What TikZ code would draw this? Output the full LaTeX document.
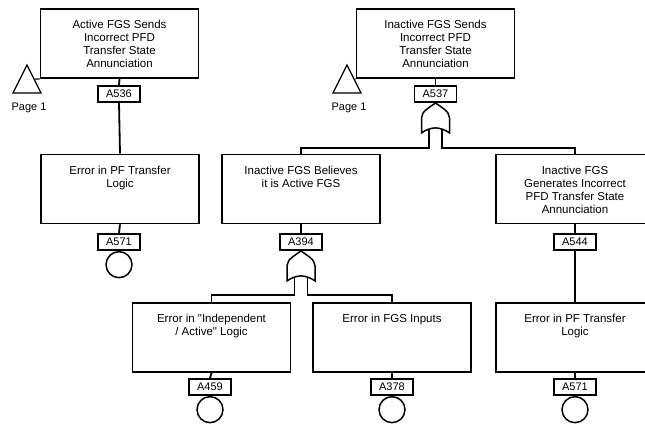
\documentclass[tikz,border=0pt]{standalone}
\usepackage{fontspec}
\setmainfont{Liberation Sans}[Ligatures=TeXOff]
\begin{document}
\begin{tikzpicture}[x=1pt,y=-1pt,line width=1.8pt,
  evbox/.style={draw,line width=1.8pt,minimum width=158pt,minimum height=69pt,inner sep=0pt},
  lbl/.style={draw,line width=1.8pt,minimum width=42pt,minimum height=16pt,inner sep=0pt,font=\fontsize{11}{12}\selectfont},
  txt/.style={align=center,anchor=north,inner sep=0pt,font=\fontsize{11.5}{13}\selectfont},
  basic/.style={draw,line width=1.5pt,circle,minimum size=26pt,inner sep=0pt},
  pagetxt/.style={inner sep=0pt,font=\fontsize{11}{12}\selectfont},
  orgate/.pic={\draw[line width=1.5pt] (0,0) .. controls (-5,4) and (-14,8) .. (-14,15) -- (-14,30)
      .. controls (-10,27) and (-4,25) .. (0,25) .. controls (4,25) and (10,27) .. (14,30)
      -- (14,15) .. controls (14,8) and (5,4) .. (0,0) -- cycle;}]
\useasboundingbox (0,0) rectangle (645,425);
\clip (0,0) rectangle (645,425);
% boxes
\node[evbox] (b1) at (119.5,43.5) {};
\node[evbox] (b2) at (435.5,43.5) {};
\node[evbox] (b3) at (120,189) {};
\node[evbox] (b4) at (301,189) {};
\node[evbox] (b5) at (575,189) {};
\node[evbox] (b6) at (211.5,337.5) {};
\node[evbox] (b7) at (392,337.5) {};
\node[evbox] (b8) at (575,337.5) {};
% texts
\node[txt] (t1) at ([yshift=-11.5pt]b1.north) {Active FGS Sends\\Incorrect PFD\\Transfer State\\Annunciation};
\node[txt] (t2) at ([yshift=-11.5pt]b2.north) {Inactive FGS Sends\\Incorrect PFD\\Transfer State\\Annunciation};
\node[txt] (t3) at ([yshift=-11.5pt]b3.north) {Error in PF Transfer\\Logic};
\node[txt] (t4) at ([yshift=-11.5pt]b4.north) {Inactive FGS Believes\\it is Active FGS};
\node[txt] (t5) at ([yshift=-11.5pt]b5.north) {Inactive FGS\\Generates Incorrect\\PFD Transfer State\\Annunciation};
\node[txt] (t6) at ([yshift=-11.5pt]b6.north) {Error in "Independent\\/ Active" Logic};
\node[txt] (t7) at ([yshift=-11.5pt]b7.north) {Error in FGS Inputs};
\node[txt] (t8) at ([yshift=-11.5pt]b8.north) {Error in PF Transfer\\Logic};
% labels
\node[lbl] (l1) at (119,94) {A536};
\node[lbl] (l2) at (435.5,94) {A537};
\node[lbl] (l3) at (119,242) {A571};
\node[lbl] (l4) at (301,242) {A394};
\node[lbl] (l5) at (575,242) {A544};
\node[lbl] (l6) at (210,387) {A459};
\node[lbl] (l7) at (392,387) {A378};
\node[lbl] (l8) at (575,387) {A571};
% basic events
\node[basic,anchor=north] (c3) at (l3.south) {};
\node[basic,anchor=north] (c6) at (l6.south) {};
\node[basic,anchor=north] (c7) at (l7.south) {};
\node[basic,anchor=north] (c8) at (l8.south) {};
% gates
\pic at (l2.south) {orgate};
\pic at (l4.south) {orgate};
\coordinate (g2l) at ([xshift=-6.5pt,yshift=-26pt]l2.south);
\coordinate (g2r) at ([xshift=6.5pt,yshift=-26pt]l2.south);
\coordinate (g4l) at ([xshift=-6.5pt,yshift=-26pt]l4.south);
\coordinate (g4r) at ([xshift=6.5pt,yshift=-26pt]l4.south);
\coordinate (h2) at (0,148);
\coordinate (h4) at (0,295);
% connectors
\draw (b1.south) -- (l1.north);
\draw (l1.south) -- (b3.north);
\draw (b2.south) -- (l2.north);
\draw (b3.south) -- (l3.north);
\draw (b4.south) -- (l4.north);
\draw (b5.south) -- (l5.north);
\draw (l5.south) -- (b8.north);
\draw (b6.south) -- (l6.north);
\draw (b7.south) -- (l7.north);
\draw (b8.south) -- (l8.north);
\draw (g2l) -- (g2l |- h2) -| (b4.north);
\draw (g2r) -- (g2r |- h2) -| (b5.north);
\draw (g4l) -- (g4l |- h4) -| (b6.north);
\draw (g4r) -- (g4r |- h4) -| (b7.north);
% transfer triangles
\coordinate (tr1) at (27,65);
\coordinate (tr2) at (347,65);
\draw[line width=1.3pt] (tr1) -- ++(14,28) -- ++(-28,0) -- cycle;
\draw[line width=1.3pt] (tr2) -- ++(14,28) -- ++(-28,0) -- cycle;
\draw[line width=1.3pt] ([shift={(8,14)}]tr1) -- (b1.south west);
\draw[line width=1.3pt] ([shift={(8,14)}]tr2) -- (b2.south west);
\node[pagetxt] (p1) at (29,108) {Page 1};
\node[pagetxt] (p2) at (349,108) {Page 1};
\end{tikzpicture}
\end{document}
